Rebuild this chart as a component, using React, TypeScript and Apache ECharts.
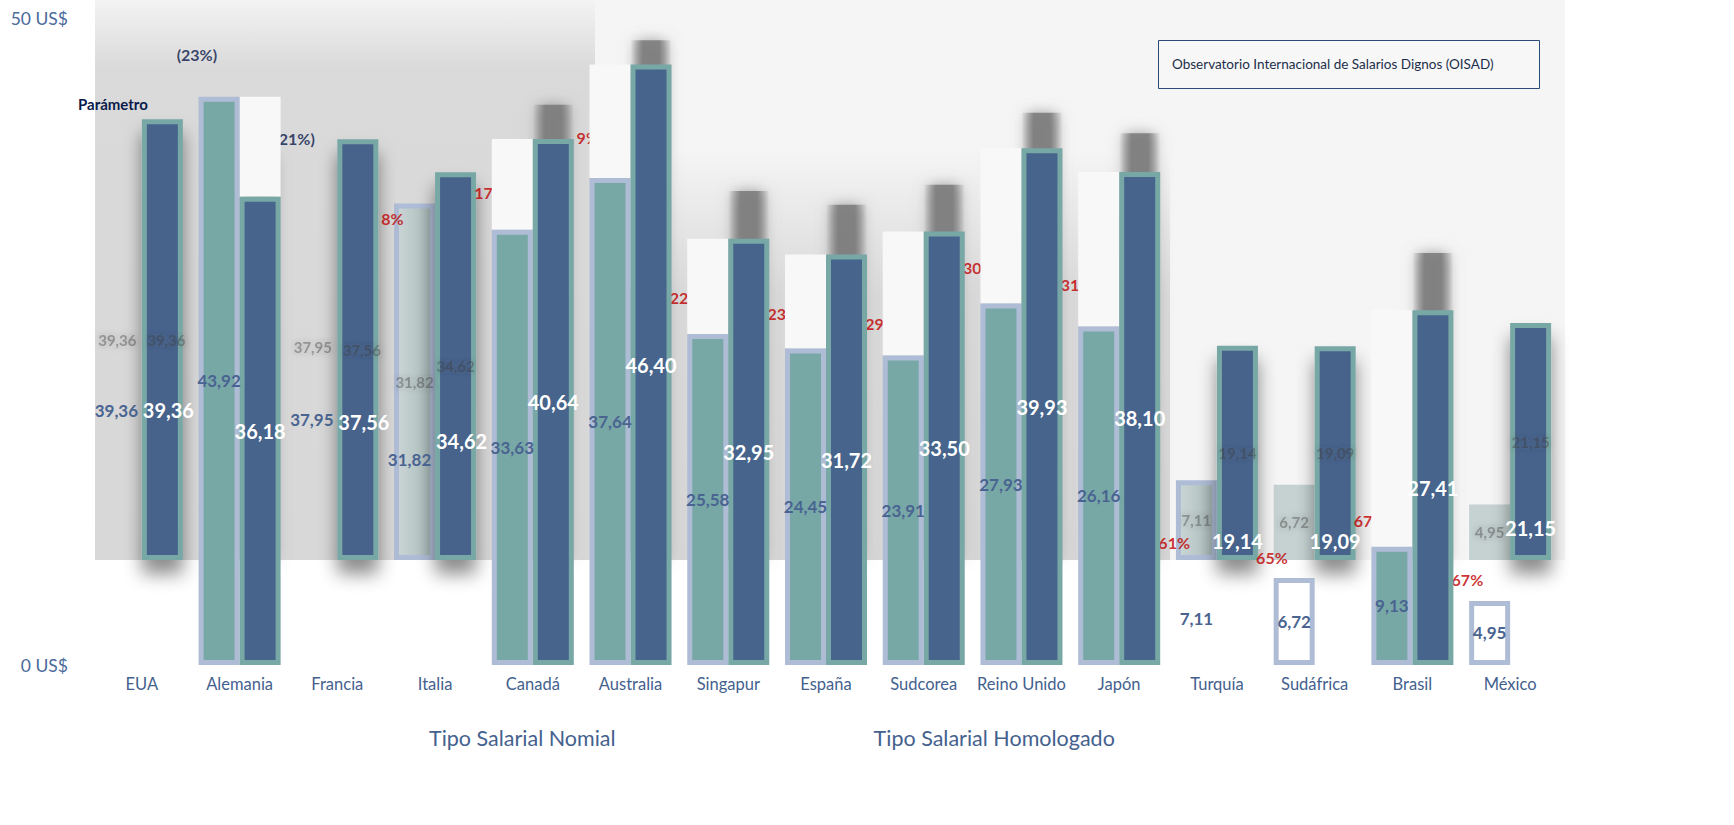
import React, { useEffect, useRef } from "react";
import * as echarts from "echarts";

// ---------- data ----------
const countries = ["EUA", "Alemania", "Francia", "Italia", "Canadá", "Australia", "Singapur", "España", "Sudcorea", "Reino Unido", "Japón", "Turquía", "Sudáfrica", "Brasil", "México"];
const nominal = [39.36, 43.92, 37.95, 31.82, 33.63, 37.64, 25.58, 24.45, 23.91, 27.93, 26.16, 7.11, 6.72, 9.13, 4.95];
const homologado = [39.36, 36.18, 37.56, 34.62, 40.64, 46.4, 32.95, 31.72, 33.5, 39.93, 38.1, 19.14, 19.09, 27.41, 21.15];
// "Parámetro" level where each gap percentage sits, and the gap percentages
const parametro = [47.2, 40.7, 34.5, 36.5, 40.8, 28.4, 27.2, 26.4, 30.7, 29.4, 9.5, 8.3, 11.2, 6.6, null];
const brecha = [-23, -21, 8, 17, 9, 22, 23, 29, 30, 31, 61, 65, 67, 67, null];
const yTicks = [0, 50];
// countries drawn in the raised (shaded) layer
const raised = ["EUA", "Francia", "Italia", "Turquía", "Sudáfrica", "México"];

const NAME_N = "Tipo Salarial Nomial";
const NAME_H = "Tipo Salarial Homologado";

const TEAL = "#78A8A6";
const DARK = "#46648C";
const LB = "#AEBCD6";
const GAP = "#F8F8F8";
const FONT = "Lato";

const fmt = (v: number) => v.toFixed(2).replace(".", ",");

export default function App() {
  const ref = useRef<HTMLDivElement>(null);

  useEffect(() => {
    if (!ref.current) return;
    const chart = echarts.init(ref.current, null, { renderer: "svg" });
    const isR = (c: string) => raised.includes(c);
    const clear = { color: "rgba(0,0,0,0)", borderWidth: 0 };
    const close = (i: number) => Math.abs(nominal[i] - homologado[i]) < 3;

    const mainNominal = countries.map((c, i) => {
      const lab = close(i) ? { label: { offset: [-5, 0] } } : {};
      if (!isR(c)) return { value: nominal[i], ...lab };
      if (c === "Sudáfrica" || c === "México")
        return { value: nominal[i], itemStyle: { color: "#FFFFFF", borderColor: LB, borderWidth: 5 }, ...lab };
      return { value: nominal[i], itemStyle: clear, ...lab };
    });
    const mainDark = countries.map((c, i) => {
      const lab = close(i) ? { label: { offset: [6, 0] } } : {};
      return isR(c) ? { value: homologado[i], itemStyle: clear, ...lab } : { value: homologado[i], ...lab };
    });
    const gapN = countries.map((c, i) =>
      isR(c) || homologado[i] <= nominal[i] ? "-" : +(homologado[i] - nominal[i]).toFixed(2)
    );
    const gapH = countries.map((c, i) =>
      isR(c) || nominal[i] <= homologado[i] ? "-" : +(nominal[i] - homologado[i]).toFixed(2)
    );

    const lightFill = new echarts.graphic.LinearGradient(0, 0, 1, 0, [
      { offset: 0, color: "#CBD6D6" },
      { offset: 0.6, color: "#B7C6C5" },
      { offset: 1, color: "#9DADAC" },
    ]);
    const grayBlur = new echarts.graphic.LinearGradient(0, 0, 1, 0, [
      { offset: 0, color: "rgba(125,125,125,0)" },
      { offset: 0.3, color: "rgba(125,125,125,0.9)" },
      { offset: 0.7, color: "rgba(125,125,125,0.9)" },
      { offset: 1, color: "rgba(125,125,125,0)" },
    ]);
    const blurLabel = {
      show: true,
      position: "inside",
      color: "rgba(60,60,60,0.4)",
      fontFamily: FONT,
      fontSize: 15,
      fontWeight: "bold",
      textShadowBlur: 6,
      textShadowColor: "rgba(60,60,60,0.7)",
      formatter: (p: any) => fmt(p.value),
    };

    const panelNominal = countries.map((c, i) => {
      if (c === "EUA" || c === "Francia") return { value: nominal[i], itemStyle: clear, label: { offset: [-4, 0] } };
      if (c === "Italia" || c === "Turquía")
        return { value: nominal[i], itemStyle: { color: lightFill, borderColor: LB, borderWidth: 5 } };
      if (c === "Sudáfrica" || c === "México")
        return { value: nominal[i], itemStyle: { color: "rgba(188,203,202,0.85)", borderWidth: 0 } };
      return "-";
    });
    const panelDark = countries.map((c, i) =>
      isR(c)
        ? {
            value: homologado[i],
            label: c === "EUA" || c === "Francia" ? { offset: [4, 0] } : {},
            itemStyle: {
              color: DARK,
              borderColor: TEAL,
              borderWidth: 5,
              shadowBlur: 18,
              shadowColor: "rgba(0,0,0,0.45)",
              shadowOffsetY: 14,
            },
          }
        : {
            value: homologado[i],
            itemStyle: { color: grayBlur, borderWidth: 0, shadowBlur: 14, shadowColor: "rgba(125,125,125,0.8)" },
            label: { show: false },
          }
    );

    const option: any = {
      animation: false,
      backgroundColor: "#FFFFFF",
      textStyle: { fontFamily: FONT },
      title: {
        text: "Observatorio Internacional de Salarios Dignos (OISAD)",
        left: 1158,
        top: 40,
        padding: [17, 46, 18, 14],
        borderColor: "#2B4A75",
        borderWidth: 1,
        backgroundColor: "#F7F7F7",
        textStyle: { fontFamily: FONT, fontSize: 13.5, fontWeight: "normal", color: "#1C2E4A" },
      },
      legend: {
        data: [NAME_N, NAME_H],
        left: 418,
        top: 722,
        itemWidth: 0,
        itemHeight: 0,
        itemGap: 252,
        selectedMode: false,
        textStyle: { fontFamily: FONT, fontSize: 21.5, color: "#44618E" },
      },
      graphic: {
        elements: [
          { type: "rect", z: -10, silent: true, shape: { x: 95, y: 0, width: 1470, height: 560 }, style: { fill: "#F5F5F5" } },
          {
            type: "rect",
            z: -9,
            silent: true,
            shape: { x: 95, y: 0, width: 500, height: 560 },
            style: {
              fill: new echarts.graphic.LinearGradient(0, 0, 0, 1, [
                { offset: 0, color: "#F3F3F3" },
                { offset: 0.12, color: "#DADADA" },
                { offset: 1, color: "#D8D8D8" },
              ]),
            },
          },
          {
            type: "rect",
            z: -9,
            silent: true,
            shape: { x: 595, y: 150, width: 575, height: 410 },
            style: {
              fill: new echarts.graphic.LinearGradient(0, 0, 0, 1, [
                { offset: 0, color: "#F5F5F5" },
                { offset: 0.35, color: "#D9D9D9" },
                { offset: 1, color: "#D6D6D6" },
              ]),
            },
          },
          {
            type: "text",
            z: 10,
            silent: true,
            style: { text: "Parámetro", x: 78, y: 104, verticalAlign: "middle", fill: "#0B1A4A", fontFamily: FONT, fontSize: 15, fontWeight: "bold" },
          },
        ],
      },
      grid: [
        { left: 93, right: 175, top: 18, bottom: 160 },
        { left: 93, right: 175, top: -87, bottom: 265 },
      ],
      xAxis: [
        {
          type: "category",
          gridIndex: 0,
          data: countries,
          axisLine: { show: false },
          axisTick: { show: false },
          axisLabel: { interval: 0, margin: 10, color: "#44618E", fontSize: 16.5, fontFamily: FONT },
        },
        { type: "category", gridIndex: 1, data: countries, show: false },
      ],
      yAxis: [
        {
          type: "value",
          gridIndex: 0,
          min: yTicks[0],
          max: yTicks[yTicks.length - 1],
          interval: yTicks[1] - yTicks[0],
          splitLine: { show: false },
          axisLine: { show: false },
          axisTick: { show: false },
          axisLabel: { margin: 25, color: "#4A6A9A", fontSize: 17.5, fontFamily: FONT, formatter: (v: number) => `${v} US$` },
        },
        { type: "value", gridIndex: 1, min: 0, max: 50, show: false },
      ],
      series: [
        // raised layer
        {
          name: "panelN",
          type: "bar",
          xAxisIndex: 1,
          yAxisIndex: 1,
          z: 1,
          barWidth: 41,
          barGap: "0%",
          silent: true,
          data: panelNominal,
          label: blurLabel,
        },
        {
          name: "panelH",
          type: "bar",
          xAxisIndex: 1,
          yAxisIndex: 1,
          z: 1,
          barWidth: 41,
          barGap: "0%",
          silent: true,
          data: panelDark,
          label: blurLabel,
        },
        // gap percentages at the parameter level
        {
          name: "Parámetro",
          type: "scatter",
          xAxisIndex: 0,
          yAxisIndex: 0,
          z: 2,
          silent: true,
          symbolSize: 1,
          itemStyle: { color: "rgba(0,0,0,0)" },
          data: parametro.map((v, i) =>
            v == null ? "-" : { value: v, label: { color: (brecha[i] as number) < 0 ? "#0B1A4A" : "#C00000" } }
          ),
          label: {
            show: true,
            position: "inside",
            offset: [55, 0],
            fontFamily: FONT,
            fontSize: 16,
            fontWeight: "bold",
            formatter: (p: any) => {
              const b = brecha[p.dataIndex] as number;
              return b < 0 ? `(${-b}%)` : `${b}%`;
            },
          },
        },
        // main layer
        {
          name: NAME_N,
          type: "bar",
          stack: "n",
          xAxisIndex: 0,
          yAxisIndex: 0,
          z: 3,
          barWidth: 41,
          barGap: "0%",
          itemStyle: { color: TEAL, borderColor: LB, borderWidth: 5 },
          label: {
            show: true,
            position: "inside",
            color: "#4A6491",
            fontFamily: FONT,
            fontSize: 17,
            fontWeight: "bold",
            formatter: (p: any) => fmt(nominal[p.dataIndex]),
          },
          data: mainNominal,
        },
        {
          name: "gapN",
          type: "bar",
          stack: "n",
          xAxisIndex: 0,
          yAxisIndex: 0,
          z: 2.5,
          barWidth: 41,
          barGap: "0%",
          silent: true,
          itemStyle: { color: GAP, borderWidth: 0 },
          data: gapN,
        },
        {
          name: NAME_H,
          type: "bar",
          stack: "h",
          xAxisIndex: 0,
          yAxisIndex: 0,
          z: 3,
          barWidth: 41,
          barGap: "0%",
          itemStyle: { color: DARK, borderColor: TEAL, borderWidth: 5 },
          label: {
            show: true,
            position: "inside",
            color: "#FFFFFF",
            fontFamily: FONT,
            fontSize: 20,
            fontWeight: "bold",
            formatter: (p: any) => fmt(homologado[p.dataIndex]),
          },
          data: mainDark,
        },
        {
          name: "gapH",
          type: "bar",
          stack: "h",
          xAxisIndex: 0,
          yAxisIndex: 0,
          z: 2.5,
          barWidth: 41,
          barGap: "0%",
          silent: true,
          itemStyle: { color: GAP, borderWidth: 0 },
          data: gapH,
        },
      ],
    };

    chart.setOption(option);
    return () => chart.dispose();
  }, []);

  return <div ref={ref} style={{ position: "absolute", left: 0, top: 0, width: 1734, height: 825 }} />;
}
